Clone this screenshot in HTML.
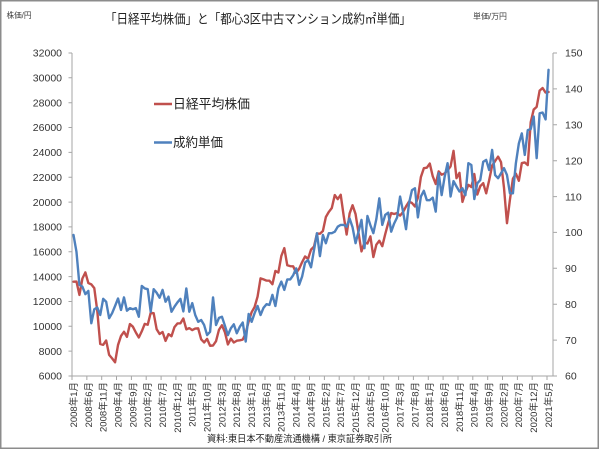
<!DOCTYPE html>
<html>
<head>
<meta charset="utf-8">
<style>
html,body{margin:0;padding:0;background:#fff;}
svg{display:block;}
text{font-family:"Liberation Sans","Noto Sans CJK JP",sans-serif;}
</style>
</head>
<body>
<svg width="600" height="450" viewBox="0 0 600 450" xmlns="http://www.w3.org/2000/svg">
<rect x="0" y="0" width="600" height="450" fill="#fff"/>
<rect x="0.75" y="0.75" width="597.5" height="447.5" fill="#fff" stroke="#8c8c8c" stroke-width="1.5"/>

<!-- title -->
<text x="105" y="23.5" font-size="13" fill="#222" textLength="306" lengthAdjust="spacingAndGlyphs">「日経平均株価」と「都心3区中古マンション成約㎡単価」</text>
<text x="6.5" y="18" font-size="8" fill="#404040" textLength="25" lengthAdjust="spacingAndGlyphs">株価/円</text>
<text x="473" y="19" font-size="8" fill="#404040" textLength="34" lengthAdjust="spacingAndGlyphs">単価/万円</text>

<!-- axes -->
<g stroke="#a6a6a6" stroke-width="1" fill="none">
<line x1="72" y1="53" x2="72" y2="376.5"/>
<line x1="553" y1="53" x2="553" y2="376.5"/>
<line x1="72" y1="376" x2="553" y2="376"/>
<!-- left ticks -->
<path d="M68.5 376H72M68.5 351.15H72M68.5 326.3H72M68.5 301.5H72M68.5 276.6H72M68.5 251.8H72M68.5 226.9H72M68.5 202.1H72M68.5 177.2H72M68.5 152.4H72M68.5 127.5H72M68.5 102.7H72M68.5 77.8H72M68.5 53H72"/>
<!-- right ticks -->
<path d="M553 376H557M553 340.1H557M553 304.2H557M553 268.3H557M553 232.4H557M553 196.6H557M553 160.7H557M553 124.8H557M553 88.9H557M553 53H557"/>
<!-- bottom ticks -->
<path d="M72 376V380M86.85 376V380M101.7 376V380M116.5 376V380M131.4 376V380M146.2 376V380M161.1 376V380M175.9 376V380M190.8 376V380M205.6 376V380M220.5 376V380M235.3 376V380M250.1 376V380M265 376V380M279.8 376V380M294.7 376V380M309.5 376V380M324.4 376V380M339.2 376V380M354.1 376V380M368.9 376V380M383.7 376V380M398.6 376V380M413.4 376V380M428.3 376V380M443.1 376V380M458 376V380M472.8 376V380M487.7 376V380M502.5 376V380M517.4 376V380M532.2 376V380M547 376V380"/>
</g>

<!-- left labels -->
<g font-size="10.5" fill="#333" text-anchor="end">
<text x="62" y="379.7">6000</text>
<text x="62" y="354.9">8000</text>
<text x="62" y="330.0">10000</text>
<text x="62" y="305.2">12000</text>
<text x="62" y="280.3">14000</text>
<text x="62" y="255.5">16000</text>
<text x="62" y="230.6">18000</text>
<text x="62" y="205.8">20000</text>
<text x="62" y="180.9">22000</text>
<text x="62" y="156.1">24000</text>
<text x="62" y="131.2">26000</text>
<text x="62" y="106.4">28000</text>
<text x="62" y="81.5">30000</text>
<text x="62" y="56.7">32000</text>
</g>
<!-- right labels -->
<g font-size="10.5" fill="#333">
<text x="565" y="379.7">60</text>
<text x="565" y="343.8">70</text>
<text x="565" y="307.9">80</text>
<text x="565" y="272.0">90</text>
<text x="565" y="236.1">100</text>
<text x="565" y="200.3">110</text>
<text x="565" y="164.4">120</text>
<text x="565" y="128.5">130</text>
<text x="565" y="92.6">140</text>
<text x="565" y="56.7">150</text>
</g>

<!-- x labels -->
<g font-size="9.5" fill="#333" text-anchor="end">
<text transform="translate(76.9,382) rotate(-90)">2008年1月</text>
<text transform="translate(91.75,382) rotate(-90)">2008年6月</text>
<text transform="translate(106.6,382) rotate(-90)">2008年11月</text>
<text transform="translate(121.4,382) rotate(-90)">2009年4月</text>
<text transform="translate(136.3,382) rotate(-90)">2009年9月</text>
<text transform="translate(151.1,382) rotate(-90)">2010年2月</text>
<text transform="translate(166.0,382) rotate(-90)">2010年7月</text>
<text transform="translate(180.8,382) rotate(-90)">2010年12月</text>
<text transform="translate(195.7,382) rotate(-90)">2011年5月</text>
<text transform="translate(210.5,382) rotate(-90)">2011年10月</text>
<text transform="translate(225.4,382) rotate(-90)">2012年3月</text>
<text transform="translate(240.2,382) rotate(-90)">2012年8月</text>
<text transform="translate(255.0,382) rotate(-90)">2013年1月</text>
<text transform="translate(269.9,382) rotate(-90)">2013年6月</text>
<text transform="translate(284.7,382) rotate(-90)">2013年11月</text>
<text transform="translate(299.6,382) rotate(-90)">2014年4月</text>
<text transform="translate(314.4,382) rotate(-90)">2014年9月</text>
<text transform="translate(329.3,382) rotate(-90)">2015年2月</text>
<text transform="translate(344.1,382) rotate(-90)">2015年7月</text>
<text transform="translate(359.0,382) rotate(-90)">2015年12月</text>
<text transform="translate(373.8,382) rotate(-90)">2016年5月</text>
<text transform="translate(388.6,382) rotate(-90)">2016年10月</text>
<text transform="translate(403.5,382) rotate(-90)">2017年3月</text>
<text transform="translate(418.3,382) rotate(-90)">2017年8月</text>
<text transform="translate(433.2,382) rotate(-90)">2018年1月</text>
<text transform="translate(448.0,382) rotate(-90)">2018年6月</text>
<text transform="translate(462.9,382) rotate(-90)">2018年11月</text>
<text transform="translate(477.7,382) rotate(-90)">2019年4月</text>
<text transform="translate(492.5,382) rotate(-90)">2019年9月</text>
<text transform="translate(507.4,382) rotate(-90)">2020年2月</text>
<text transform="translate(522.2,382) rotate(-90)">2020年7月</text>
<text transform="translate(537.1,382) rotate(-90)">2020年12月</text>
<text transform="translate(551.9,382) rotate(-90)">2021年5月</text>
</g>

<!-- footer -->
<text x="207" y="442" font-size="9.5" fill="#222" textLength="185" lengthAdjust="spacingAndGlyphs">資料:東日本不動産流通機構 / 東京証券取引所</text>

<!-- legend -->
<line x1="154" y1="104" x2="172" y2="104" stroke="#c0504d" stroke-width="2.4"/>
<text x="173" y="108.5" font-size="13" fill="#222" textLength="77" lengthAdjust="spacingAndGlyphs">日経平均株価</text>
<line x1="154" y1="142.5" x2="172" y2="142.5" stroke="#4f81bd" stroke-width="2.4"/>
<text x="173" y="147" font-size="13" fill="#222" textLength="50" lengthAdjust="spacingAndGlyphs">成約単価</text>

<!-- Nikkei (left axis) -->
<g transform="translate(73.5,376) scale(2.969,-0.012425)">
<polyline fill="none" stroke="#c0504d" stroke-width="2.4" stroke-linejoin="round" stroke-linecap="round" vector-effect="non-scaling-stroke" points="0,7592 1,7603 2,6525 3,7849 4,8338 5,7481 6,7376 7,7072 8,5259 9,2576 10,2512 11,2859 12,1700 13,1420 14,1100 15,2500 16,3220 17,3560 18,3150 19,4180 20,3970 21,3500 22,3100 23,3600 24,4198 25,4126 26,5089 27,5057 28,3768 29,3382 30,3537 31,2824 32,3369 33,3202 34,3937 35,4228 36,4237 37,4624 38,3755 39,3849 40,3693 41,3816 42,3833 43,2955 44,2700 45,2988 46,2434 47,2455 48,2802 49,3723 50,4083 51,3520 52,2542 53,3006 54,2695 55,2839 56,2870 57,2928 58,3446 59,4395 60,5138 61,5559 62,6397 63,7860 64,7774 65,7677 66,7668 67,7388 68,8455 69,8327 70,9661 71,10291 72,8914 73,8841 74,8827 75,8304 76,8632 77,9162 78,9620 79,9424 80,10173 81,10413 82,11459 83,11450 84,11674 85,12797 86,13206 87,13520 88,14563 89,14235 90,14585 91,12890 92,11388 93,13083 94,13747 95,13033 96,11518 97,10026 98,10758 99,10666 100,11234 101,9575 102,10569 103,10887 104,10449 105,11425 106,12308 107,13114 108,13041 109,13118 110,12909 111,13196 112,13650 113,14033 114,13925 115,13646 116,14356 117,16011 118,16724 119,16764 120,17098 121,16068 122,15454 123,16467 124,16201 125,16304 126,16553 127,16865 128,18120 129,15920 130,16351 131,14014 132,14773 133,15385 134,15205 135,16258 136,14601 137,15275 138,15521 139,14704 140,15755 141,16927 142,17293 143,17656 144,17205 145,15143 146,12300 147,14193 148,15877 149,16288 150,15710 151,17139 152,17185 153,16977 154,20433 155,21444 156,21663 157,22966 158,23179 159,22813 160,22860"/>
</g>

<!-- Condo price (right axis) -->
<g transform="translate(73.5,376) scale(2.969,-3.589)">
<polyline fill="none" stroke="#4f81bd" stroke-width="2.4" stroke-linejoin="round" stroke-linecap="round" vector-effect="non-scaling-stroke" points="0,39.3 1,34.6 2,25.4 3,24.9 4,22.8 5,23.7 6,14.7 7,18.6 8,19.1 9,17.0 10,21.5 11,20.7 12,16.1 13,17.5 14,19.5 15,21.6 16,18.4 17,21.9 18,18.2 19,18.9 20,18.6 21,18.9 22,16.5 23,25.1 24,24.4 25,24.2 26,17.9 27,24.2 28,23.2 29,21.8 30,24.0 31,20.7 32,22.1 33,17.9 34,19.3 35,20.5 36,21.5 37,18.0 38,24.4 39,17.9 40,20.3 41,17.0 42,15.1 43,15.6 44,14.2 45,11.4 46,12.3 47,21.9 48,14.2 49,16.2 50,16.5 51,14.0 52,11.4 53,13.3 54,14.4 55,11.9 56,13.7 57,14.9 58,9.6 59,17.3 60,15.1 61,17.5 62,19.5 63,17.0 64,19.0 65,20.0 66,19.8 67,22.6 68,19.5 69,24.4 70,26.3 71,24.0 72,26.9 73,26.9 74,28.1 75,30.0 76,25.4 77,27.7 78,31.6 79,32.3 80,30.3 81,35.1 82,39.8 83,33.4 84,39.3 85,37.0 86,39.8 87,39.8 88,40.2 89,41.6 90,42.1 91,42.1 92,41.6 93,43.9 94,41.4 95,37.0 96,40.2 97,43.5 98,35.6 99,44.6 100,42.0 101,39.8 102,43.7 103,49.5 104,42.1 105,44.9 106,45.5 107,40.2 108,42.5 109,44.2 110,50.0 111,45.8 112,40.9 113,48.1 114,51.8 115,52.3 116,44.2 117,50.0 118,51.6 119,49.0 120,49.0 121,49.7 122,45.8 123,56.5 124,50.4 125,55.5 126,59.3 127,50.0 128,54.3 129,52.8 130,51.4 131,52.3 132,50.4 133,59.3 134,58.8 135,49.3 136,53.7 137,54.6 138,59.7 139,60.2 140,57.4 141,63.0 142,56.0 143,55.1 144,56.5 145,57.9 146,56.0 147,50.9 148,50.9 149,59.3 150,64.8 151,67.6 152,61.6 153,68.5 154,68.8 155,72.3 156,60.7 157,73.2 158,73.4 159,71.5 160,85.3"/>
</g>
</svg>
</body>
</html>
